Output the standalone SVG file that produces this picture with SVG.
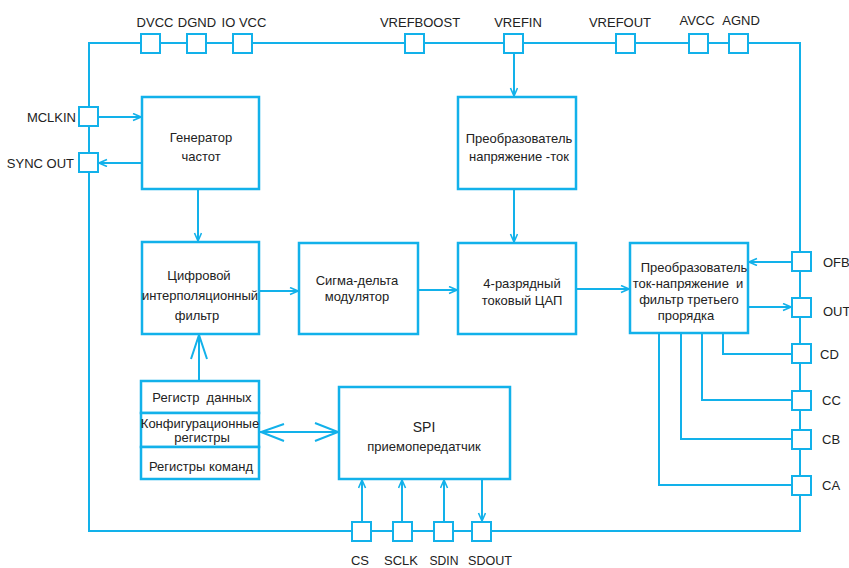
<svg xmlns="http://www.w3.org/2000/svg" width="849" height="568" viewBox="0 0 849 568">
<defs>
<style>
.ln{fill:none;stroke:#12b1ea;stroke-width:2}
.box{fill:#fff;stroke:#12b1ea;stroke-width:2.5}
.pin{fill:#fff;stroke:#12b1ea;stroke-width:2}
.t{font-family:"Liberation Sans",Arial,sans-serif;font-size:13px;fill:#222}
.c{text-anchor:middle}
.e{text-anchor:end}
</style>
<marker id="ah" markerWidth="10" markerHeight="10" refX="9" refY="4" orient="auto" markerUnits="userSpaceOnUse">
<path d="M1,0.5 L9,4 L1,7.5" fill="none" stroke="#12b1ea" stroke-width="1.6"/>
</marker>
</defs>
<rect width="849" height="568" fill="#fff"/>
<g id="connectors">
<path class="ln" d="M89,43 H800 V531 H89 Z"/>
<line class="ln" x1="98" y1="117" x2="141" y2="117" marker-end="url(#ah)"/>
<line class="ln" x1="142" y1="163" x2="99" y2="163" marker-end="url(#ah)"/>
<line class="ln" x1="198" y1="189" x2="198" y2="241" marker-end="url(#ah)"/>
<line class="ln" x1="514" y1="53" x2="514" y2="96" marker-end="url(#ah)"/>
<line class="ln" x1="514" y1="189" x2="514" y2="242" marker-end="url(#ah)"/>
<line class="ln" x1="259" y1="291" x2="298" y2="291" marker-end="url(#ah)"/>
<line class="ln" x1="418" y1="290" x2="457" y2="290" marker-end="url(#ah)"/>
<line class="ln" x1="576" y1="289" x2="629" y2="289" marker-end="url(#ah)"/>
<line class="ln" x1="792" y1="262" x2="749" y2="262" marker-end="url(#ah)"/>
<line class="ln" x1="748" y1="307" x2="791" y2="307" marker-end="url(#ah)"/>
<path class="ln" d="M723,333 V354 H792"/>
<path class="ln" d="M702,333 V400 H792"/>
<path class="ln" d="M681,333 V439 H792"/>
<path class="ln" d="M659,333 V485 H792"/>
<line class="ln" x1="199" y1="381" x2="199" y2="335"/>
<polyline class="ln" points="191,359 199,335 207,359"/>
<line class="ln" x1="260" y1="432" x2="339" y2="432"/>
<polyline class="ln" points="284,424 261,432 284,441"/>
<polyline class="ln" points="315,423 338,432 315,441"/>
<line class="ln" x1="362" y1="522" x2="362" y2="480" marker-end="url(#ah)"/>
<line class="ln" x1="402" y1="522" x2="402" y2="480" marker-end="url(#ah)"/>
<line class="ln" x1="444" y1="522" x2="444" y2="480" marker-end="url(#ah)"/>
<line class="ln" x1="482" y1="479" x2="482" y2="521" marker-end="url(#ah)"/>
</g>
<g id="gen"><rect class="box" x="142" y="97" width="117" height="92"/>
<text class="t c" x="201" y="142">Генератор</text><text class="t c" x="201" y="161">частот</text></g>
<g id="filter"><rect class="box" x="142" y="242" width="117" height="92"/>
<text class="t c" x="199" y="280">Цифровой</text><text class="t c" x="200" y="300">интерполяционный</text><text class="t c" x="197" y="320">фильтр</text></g>
<g id="sigma"><rect class="box" x="299" y="243" width="119" height="91"/>
<text class="t c" x="357" y="285">Сигма-дельта</text><text class="t c" x="357" y="301">модулятор</text></g>
<g id="dac"><rect class="box" x="458" y="243" width="118" height="91"/>
<text class="t c" x="522" y="288">4-разрядный</text><text class="t c" x="522" y="305">токовый ЦАП</text></g>
<g id="vi"><rect class="box" x="458" y="97" width="118" height="92"/>
<text class="t c" x="519" y="143">Преобразователь</text><text class="t c" x="519" y="161">напряжение -ток</text></g>
<g id="iv"><rect class="box" x="630" y="243" width="118" height="90"/>
<text class="t c" x="694" y="272">Преобразователь</text><text class="t c" x="688" y="288" xml:space="preserve">ток-напряжение  и</text><text class="t c" x="689" y="304">фильтр третьего</text><text class="t c" x="686" y="320">прорядка</text></g>
<g id="registers">
<rect class="box" x="141" y="381" width="118" height="32"/>
<rect class="box" x="141" y="413" width="118" height="34"/>
<rect class="box" x="141" y="447" width="118" height="32"/>
<text class="t c" x="202" y="402" xml:space="preserve">Регистр  данных</text>
<text class="t c" x="200" y="428">Конфигурационные</text>
<text class="t c" x="202" y="442">регистры</text>
<text class="t c" x="201" y="471">Регистры команд</text>
</g>
<g id="spi"><rect class="box" x="339" y="387" width="171" height="92"/>
<text class="t c" x="424" y="432" style="font-size:14px">SPI</text><text class="t c" x="424" y="451">приемопередатчик</text></g>
<g id="pins">
<rect class="pin" x="141" y="34" width="19" height="19"/><text class="t c" x="155" y="27">DVCC</text>
<rect class="pin" x="187" y="34" width="19" height="19"/><text class="t c" x="197" y="27">DGND</text>
<rect class="pin" x="233" y="34" width="19" height="19"/><text class="t c" x="244" y="27">IO VCC</text>
<rect class="pin" x="405" y="34" width="19" height="19"/><text class="t c" x="420" y="27">VREFBOOST</text>
<rect class="pin" x="504" y="34" width="19" height="19"/><text class="t c" x="518" y="27">VREFIN</text>
<rect class="pin" x="616" y="34" width="19" height="19"/><text class="t c" x="620" y="27">VREFOUT</text>
<rect class="pin" x="689" y="34" width="19" height="19"/><text class="t c" x="697" y="25">AVCC</text>
<rect class="pin" x="729" y="34" width="19" height="19"/><text class="t c" x="741" y="25">AGND</text>
<rect class="pin" x="79" y="107" width="19" height="19"/><text class="t e" x="76" y="122">MCLKIN</text>
<rect class="pin" x="79" y="153" width="19" height="19"/><text class="t e" x="74" y="168">SYNC OUT</text>
<rect class="pin" x="792" y="252" width="19" height="19"/><text class="t" x="823" y="267">OFB</text>
<rect class="pin" x="792" y="298" width="19" height="19"/><text class="t" x="823" y="316">OUT</text>
<rect class="pin" x="792" y="344" width="19" height="19"/><text class="t" x="820" y="359">CD</text>
<rect class="pin" x="792" y="391" width="19" height="19"/><text class="t" x="822" y="405">CC</text>
<rect class="pin" x="792" y="430" width="19" height="19"/><text class="t" x="822" y="444">CB</text>
<rect class="pin" x="792" y="476" width="19" height="19"/><text class="t" x="822" y="490">CA</text>
<rect class="pin" x="352" y="522" width="19" height="19"/><text class="t c" x="360" y="565">CS</text>
<rect class="pin" x="393" y="522" width="19" height="19"/><text class="t c" x="401" y="565">SCLK</text>
<rect class="pin" x="434" y="522" width="19" height="19"/><text class="t c" x="444" y="565" textLength="29" lengthAdjust="spacingAndGlyphs">SDIN</text>
<rect class="pin" x="472" y="522" width="19" height="19"/><text class="t c" x="490" y="565" textLength="44" lengthAdjust="spacingAndGlyphs">SDOUT</text>
</g>
</svg>
